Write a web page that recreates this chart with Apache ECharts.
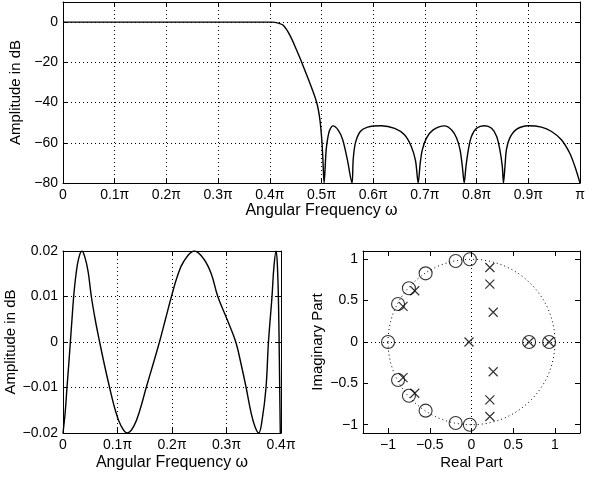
<!DOCTYPE html>
<html>
<head>
<meta charset="utf-8">
<script src="https://cdn.jsdelivr.net/npm/echarts@6/dist/echarts.min.js"></script>
<style>
  html, body { margin: 0; padding: 0; background: #fff; }
  #chart { width: 595px; height: 479px; }
</style>
</head>
<body>
<div id="chart"></div>
<script>
// magnitude response, w in units of pi, dB
var magW = [0, 0.2, 0.405, 0.415, 0.426, 0.439, 0.452, 0.4617, 0.4778, 0.4907, 0.497, 0.501, 0.503, 0.505,
  0.509, 0.5126, 0.516, 0.522, 0.532, 0.541, 0.550, 0.559,
  0.5613, 0.5655, 0.575, 0.589, 0.6157, 0.6415, 0.6605, 0.6737, 0.682, 0.687,
  0.691, 0.695, 0.703, 0.716, 0.738, 0.7518, 0.7615, 0.768, 0.7724, 0.776,
  0.7795, 0.784, 0.790, 0.800, 0.815, 0.829, 0.8388, 0.845, 0.8497, 0.852,
  0.8549, 0.8576, 0.864, 0.877, 0.900, 0.9255, 0.945, 0.964, 0.980, 0.990, 1.0];
var magDb = [0, 0, 0, -0.4, -1.6, -6.6, -14, -20, -30.5, -40, -48.7, -60, -70, -80,
  -63.5, -56.9, -53.6, -51.6, -53.6, -58.5, -68.4, -80,
  -68.4, -60.2, -54.4, -52.2, -51.5, -52.8, -56, -61.8, -69.1, -80,
  -70, -63.5, -57.7, -53.6, -51.6, -53.6, -57.7, -63.5, -71.7, -80,
  -71.7, -63.5, -56.9, -52.8, -51.5, -52.8, -56.9, -63.5, -71.7, -80,
  -71.7, -63.5, -57.7, -53.3, -51.5, -52.2, -54.4, -58.5, -65.1, -71.7, -80];

// passband detail
var passW = [0, 0.004, 0.0073, 0.0105, 0.0135, 0.0165, 0.0196, 0.024, 0.029, 0.0348, 0.040, 0.046,
  0.052, 0.059, 0.0672, 0.076, 0.0855, 0.096, 0.106, 0.118, 0.130, 0.141, 0.1527, 0.165,
  0.177, 0.188, 0.199, 0.210, 0.222, 0.241, 0.258, 0.272, 0.284, 0.301, 0.317, 0.327,
  0.336, 0.345, 0.352, 0.359, 0.3655, 0.3725, 0.377, 0.3835, 0.387, 0.391, 0.3935, 0.3955,
  0.397, 0.3987, 0.4];
var passDb = [-0.02, -0.0155, -0.01, -0.005, 0, 0.005, 0.01, 0.015, 0.0185, 0.02, 0.0187, 0.0155,
  0.01, 0.005, 0, -0.005, -0.01, -0.015, -0.0183, -0.02, -0.0185, -0.015, -0.01, -0.005,
  0, 0.005, 0.01, 0.0145, 0.0178, 0.02, 0.0183, 0.015, 0.01, 0.005, 0, -0.005,
  -0.01, -0.0155, -0.0185, -0.02, -0.017, -0.01, 0, 0.01, 0.0165, 0.02, 0.0165, 0.008,
  -0.004, -0.02, -0.027];

// zeros and poles
var zeroRe = [-0.02, -0.19, -0.55, -0.75, -0.88, -1, -0.88, -0.75, -0.55, -0.19, -0.02, 0.69, 0.93];
var zeroIm = [1.0, 0.98, 0.83, 0.65, 0.46, 0, -0.46, -0.65, -0.83, -0.98, -1.0, 0, 0];
var poleRe = [0.22, 0.22, 0.26, -0.03, -0.82, -0.68, 0.22, 0.22, 0.26, -0.82, -0.68, 0.69, 0.93];
var poleIm = [0.90, 0.70, 0.36, 0, 0.43, 0.62, -0.90, -0.70, -0.36, -0.43, -0.62, 0, 0];

var piTicks = function (v) {
  if (Math.abs(v) < 1e-9) return '0';
  if (Math.abs(v - 1) < 1e-9) return 'π';
  return (+v.toFixed(1)) + 'π';
};
var minus = function (v) { return String(+v.toFixed(4)).replace('-', '−'); };

function pairs(xs, ys) {
  var out = [];
  for (var i = 0; i < xs.length; i++) out.push([xs[i], ys[i]]);
  return out;
}

var font = 'Liberation Sans, Arial, sans-serif';
var lab = { color: '#000', fontSize: 14, fontFamily: font, margin: 5 };
var nameStyle = { color: '#000', fontSize: 15, fontFamily: font };
var line = { show: true, onZero: false, lineStyle: { color: '#000', width: 1 } };
var tick = { show: true, inside: true, length: 5, lineStyle: { color: '#000' } };
var grid = { show: true, lineStyle: { color: '#000', type: [1, 3], width: 1 } };

function frameX(gi, min, max, interval) {
  return { type: 'value', gridIndex: gi, position: 'top', min: min, max: max, interval: interval,
    axisLine: line, axisTick: tick, axisLabel: { show: false }, splitLine: { show: false } };
}
function frameY(gi, min, max, interval) {
  return { type: 'value', gridIndex: gi, position: 'right', min: min, max: max, interval: interval,
    axisLine: line, axisTick: tick, axisLabel: { show: false }, splitLine: { show: false } };
}

var chart = echarts.init(document.getElementById('chart'));
var pzTicks = [-1, -0.5, 0, 0.5, 1];

chart.setOption({
  animation: false,
  backgroundColor: '#fff',
  grid: [
    { left: 63, top: 2, width: 517, height: 181 },
    { left: 63, top: 251, width: 218, height: 182 },
    { left: 363, top: 251, width: 217, height: 182 }
  ],
  xAxis: [
    { type: 'value', gridIndex: 0, min: 0, max: 1, interval: 0.1,
      name: 'Angular Frequency ω', nameLocation: 'middle', nameGap: 20,
      nameTextStyle: Object.assign({}, nameStyle, { fontSize: 16 }),
      axisLine: line, axisTick: tick, axisLabel: Object.assign({ formatter: piTicks }, lab), splitLine: grid },
    frameX(0, 0, 1, 0.1),
    { type: 'value', gridIndex: 1, min: 0, max: 0.4, interval: 0.1,
      name: 'Angular Frequency ω', nameLocation: 'middle', nameGap: 22,
      nameTextStyle: Object.assign({}, nameStyle, { fontSize: 16 }),
      axisLine: line, axisTick: tick, axisLabel: Object.assign({ formatter: piTicks }, lab), splitLine: grid },
    frameX(1, 0, 0.4, 0.1),
    { type: 'value', gridIndex: 2, min: -1.3, max: 1.3,
      name: 'Real Part', nameLocation: 'middle', nameGap: 22, nameTextStyle: nameStyle,
      axisLine: line,
      axisTick: Object.assign({ customValues: pzTicks }, tick),
      axisLabel: Object.assign({ formatter: minus, customValues: pzTicks }, lab),
      splitLine: { show: false } },
    { type: 'value', gridIndex: 2, position: 'top', min: -1.3, max: 1.3,
      axisLine: line, axisTick: Object.assign({ customValues: pzTicks }, tick),
      axisLabel: { show: false }, splitLine: { show: false } }
  ],
  yAxis: [
    { type: 'value', gridIndex: 0, min: -80, max: 10, interval: 20,
      name: 'Amplitude in dB', nameLocation: 'middle', nameGap: 30, nameTextStyle: nameStyle,
      axisLine: line, axisTick: tick,
      axisLabel: Object.assign({ formatter: minus, showMaxLabel: false }, lab), splitLine: grid },
    frameY(0, -80, 10, 20),
    { type: 'value', gridIndex: 1, min: -0.02, max: 0.02, interval: 0.01,
      name: 'Amplitude in dB', nameLocation: 'middle', nameGap: 45, nameTextStyle: nameStyle,
      axisLine: line, axisTick: tick, axisLabel: Object.assign({ formatter: minus }, lab), splitLine: grid },
    frameY(1, -0.02, 0.02, 0.01),
    { type: 'value', gridIndex: 2, min: -1.1, max: 1.1,
      name: 'Imaginary Part', nameLocation: 'middle', nameGap: 38, nameTextStyle: nameStyle,
      axisLine: line,
      axisTick: Object.assign({ customValues: pzTicks }, tick),
      axisLabel: Object.assign({ formatter: minus, customValues: pzTicks }, lab),
      splitLine: { show: false } },
    { type: 'value', gridIndex: 2, position: 'right', min: -1.1, max: 1.1,
      axisLine: line, axisTick: Object.assign({ customValues: pzTicks }, tick),
      axisLabel: { show: false }, splitLine: { show: false } }
  ],
  series: [
    { type: 'line', xAxisIndex: 0, yAxisIndex: 0, data: pairs(magW, magDb),
      showSymbol: false, smooth: 0.3, clip: true,
      lineStyle: { color: '#000', width: 1.4 } },
    { type: 'line', xAxisIndex: 2, yAxisIndex: 2, data: pairs(passW, passDb),
      showSymbol: false, smooth: 0.4, clip: true,
      lineStyle: { color: '#000', width: 1.4 } },
    { type: 'scatter', xAxisIndex: 4, yAxisIndex: 4, data: pairs(zeroRe, zeroIm),
      symbol: 'circle', symbolSize: 13, z: 3,
      itemStyle: { color: 'none', borderColor: '#000', borderWidth: 1.1 },
      markLine: { silent: true, symbol: 'none', label: { show: false },
        lineStyle: { color: '#000', type: [1, 3], width: 1 },
        data: [{ xAxis: 0 }, { yAxis: 0 }] } },
    { type: 'scatter', xAxisIndex: 4, yAxisIndex: 4, data: pairs(poleRe, poleIm),
      symbol: 'path://M0 0L10 10M10 0L0 10', symbolSize: 9, z: 4,
      itemStyle: { color: 'none', borderColor: '#000', borderWidth: 1.2 } }
  ]
});

// dotted unit circle placed through the pole-zero axes
var c0 = chart.convertToPixel({ xAxisIndex: 4, yAxisIndex: 4 }, [0, 0]);
var c1 = chart.convertToPixel({ xAxisIndex: 4, yAxisIndex: 4 }, [1, 1]);
chart.setOption({
  graphic: [{
    type: 'ellipse', z: 1, silent: true,
    shape: { cx: c0[0], cy: c0[1], rx: c1[0] - c0[0], ry: c0[1] - c1[1] },
    style: { fill: 'none', stroke: '#000', lineWidth: 1, lineDash: [1, 3] }
  }]
});
</script>
</body>
</html>
